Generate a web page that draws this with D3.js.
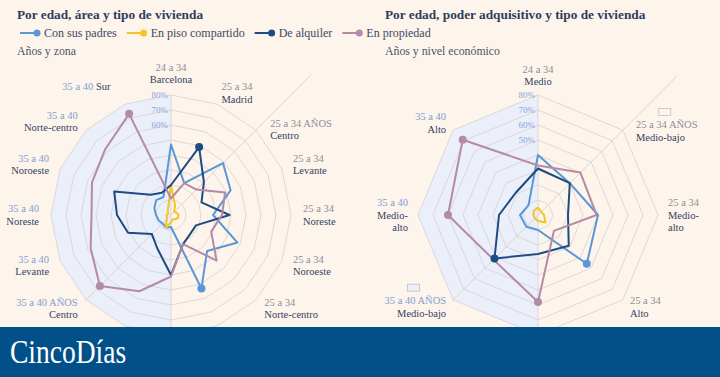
<!DOCTYPE html>
<html>
<head>
<meta charset="utf-8">
<script src="https://cdn.jsdelivr.net/npm/d3@7"></script>
<style>
  body { margin: 0; background: #fdf4ec; }
  svg { display: block; }
  text { font-family: "Liberation Serif", serif; }
</style>
</head>
<body>
<svg id="chart"></svg>
<script>
// series
const seriesNames = ['Con sus padres', 'En piso compartido', 'De alquiler', 'En propiedad'];
const seriesColors = ['#5a97d6', '#f6c32b', '#1e4b82', '#b58aa6'];

// left radar: age + area
const areaAges = ['24 a 34', '25 a 34', '25 a 34 AÑOS', '25 a 34', '25 a 34', '25 a 34', '25 a 34', '25 a 34',
                  '35 a 40', '35 a 40', '35 a 40 AÑOS', '35 a 40', '35 a 40', '35 a 40', '35 a 40', '35 a 40'];
const areaZones = ['Barcelona', 'Madrid', 'Centro', 'Levante', 'Noreste', 'Noroeste', 'Norte-centro', 'Sur',
                   'Barcelona', 'Madrid', 'Centro', 'Levante', 'Noreste', 'Noroeste', 'Norte-centro', 'Sur'];
const areaInline = [15];
const areaPadres    = [47, 23, 49, 43, 28, 48, 34, 53, 8, 9, 8, 9, 10, 12, 14, 13];
const areaPiso      = [20, 7, 3, 4, 5, 5, 4, 3, 5, 9, 4, 3, 3, 2, 3, 5];
const areaAlquiler  = [20, 49, 31, 22, 39, 18, 18, 21, 40, 24, 18, 31, 36, 41, 19, 16];
const areaPropiedad = [11, 23, 24, 39, 34, 29, 43, 21, 41, 55, 67, 58, 53, 57, 62, 73];
const areaDots = [[7], [], [1], [10, 15]];
const areaTicks = [60, 70, 80];

// right radar: age + income level
const incomeAges = ['24 a 34', '25 a 34 AÑOS', '25 a 34', '25 a 34', '35 a 40', '35 a 40 AÑOS', '35 a 40', '35 a 40'];
const incomeLevels = ['Medio', 'Medio-bajo', 'Medio-\nalto', 'Alto', 'Medio', 'Medio-bajo', 'Medio-\nalto', 'Alto'];
const incomePadres    = [40, 30, 40, 46, 10, 11, 12, 9];
const incomePiso      = [5, 3, 4, 7, 4, 3, 3, 4];
const incomeAlquiler  = [31, 30, 20, 29, 26, 41, 26, 21];
const incomePropiedad = [33, 40, 39, 15, 58, 42, 60, 71];
const incomeDots = [[3], [], [5], [4, 6, 7]];
const incomeTicks = [50, 60, 70, 80];

const rings = [10, 20, 30, 40, 50, 60, 70, 80];

const width = 720, height = 377, bannerTop = 327;
const svg = d3.select('#chart').attr('width', width).attr('height', height);

svg.append('rect').attr('width', width).attr('height', height).attr('fill', '#fdf4ec');

const r = d3.scaleLinear().domain([0, 80]).range([0, 120]);

function radar(cx, cy, opts) {
  const n = opts.ages.length;
  const step = 2 * Math.PI / n;
  const g = svg.append('g').attr('transform', `translate(${cx},${cy})`);
  const pt = (a, rad) => [rad * Math.sin(a), -rad * Math.cos(a)];

  // left half shaded (older group)
  const half = d3.range(n / 2, n + 1).map(i => ({ a: i * step, r: r(80) }));
  half.push({ a: 0, r: 0 });
  g.append('path')
    .attr('d', d3.lineRadial().angle(d => d.a).radius(d => d.r).curve(d3.curveLinearClosed)(half))
    .attr('fill', '#ebeffa');

  // rings
  g.selectAll('.ring').data(rings).enter().append('path')
    .attr('class', 'ring')
    .attr('d', v => d3.lineRadial().angle((d, i) => i * step).radius(r(v)).curve(d3.curveLinearClosed)(d3.range(n)))
    .attr('fill', 'none')
    .attr('stroke', '#d4d0d2')
    .attr('stroke-width', 0.8);

  // spokes
  g.append('line').attr('x1', 0).attr('y1', -r(80)).attr('x2', 0).attr('y2', r(80))
    .attr('stroke', '#d4d0d2').attr('stroke-width', 0.8);
  const e1 = pt(Math.PI / 4, opts.extend), e2 = pt(5 * Math.PI / 4, r(81));
  g.append('line').attr('x1', e2[0]).attr('y1', e2[1]).attr('x2', e1[0]).attr('y2', e1[1])
    .attr('stroke', '#d9d0ca').attr('stroke-width', 0.9);

  // series lines
  const line = d3.lineRadial().angle((d, i) => i * step).radius(d => r(d)).curve(d3.curveLinearClosed);
  opts.values.forEach((vals, s) => {
    g.append('path').attr('d', line(vals))
      .attr('fill', 'none').attr('stroke', seriesColors[s])
      .attr('stroke-width', 2).attr('stroke-linejoin', 'round');
  });
  opts.values.forEach((vals, s) => {
    opts.dots[s].forEach(i => {
      const p = pt(i * step, r(vals[i]));
      g.append('circle').attr('cx', p[0]).attr('cy', p[1]).attr('r', 4).attr('fill', seriesColors[s]);
    });
  });

  // tick labels
  g.selectAll('.tick').data(opts.ticks).enter().append('text')
    .attr('x', -3).attr('y', v => -r(v) + 3)
    .attr('text-anchor', 'end')
    .attr('font-size', 9)
    .attr('fill', '#86a4d8')
    .text(v => v + '%');

  // category labels (the ones that fall under the banner are cut off in the original)
  const lh = 12.5;
  opts.ages.forEach((age, i) => {
    const a = i * step;
    let [lx, ly] = pt(a, opts.labelR);
    if (cy + ly > bannerTop - 12) return;
    if (age.includes('AÑOS') && i < n / 2) { lx += 6; ly += 8; }
    const s = Math.sin(a), c = Math.cos(a);
    const anchor = s > 0.1 ? 'start' : s < -0.1 ? 'end' : 'middle';
    const ageColor = i < n / 2 ? '#8e8f98' : '#7f9fd2';
    const inline = opts.inline.includes(i);
    const lines = inline ? [[age, opts.names[i]]] : [[age], ...opts.names[i].split('\n').map(t => [null, t])];
    const k = inline ? 2 : lines.length;
    if (inline) lx -= 10;
    let y0;
    if (c > 0.95) y0 = ly - (k - 1) * lh;
    else if (c < -0.95) y0 = ly + 9;
    else y0 = ly - (k - 1) * lh / 2 + 3.5;
    const texts = lines.map((ln, j) => {
      const t = g.append('text').attr('x', lx).attr('y', y0 + j * lh)
        .attr('text-anchor', anchor).attr('font-size', 10.5);
      if (ln[0] !== null) t.append('tspan').attr('fill', ageColor).text(ln[0]);
      if (ln.length > 1) t.append('tspan').attr('fill', '#34425f').text((ln[0] !== null ? ' ' : '') + ln[1]);
      return t;
    });
    if (opts.keyBoxes && age.includes('AÑOS')) {
      const bb = texts[0].node().getBBox();
      g.append('rect')
        .attr('x', bb.x + bb.width / 2 - 8).attr('y', bb.y - 11)
        .attr('width', 12).attr('height', 7)
        .attr('fill', i < n / 2 ? '#fdf4ec' : '#ebeffa')
        .attr('stroke', '#b9b9c2').attr('stroke-width', 0.7);
    }
  });
}

radar(171, 215, {
  ages: areaAges, names: areaZones, inline: areaInline,
  values: [areaPadres, areaPiso, areaAlquiler, areaPropiedad],
  dots: areaDots, ticks: areaTicks, labelR: 132, extend: 198, keyBoxes: false
});

radar(538, 215, {
  ages: incomeAges, names: incomeLevels, inline: [],
  values: [incomePadres, incomePiso, incomeAlquiler, incomePropiedad],
  dots: incomeDots, ticks: incomeTicks, labelR: 130, extend: 196, keyBoxes: true
});

// titles
svg.append('text').attr('x', 17).attr('y', 19)
  .attr('font-size', 13.3).attr('font-weight', 'bold').attr('fill', '#2c3e5c')
  .text('Por edad, área y tipo de vivienda');
svg.append('text').attr('x', 385).attr('y', 19)
  .attr('font-size', 13.3).attr('font-weight', 'bold').attr('fill', '#2c3e5c')
  .text('Por edad, poder adquisitivo y tipo de vivienda');
svg.append('text').attr('x', 17).attr('y', 55)
  .attr('font-size', 11.8).attr('fill', '#4b556b').text('Años y zona');
svg.append('text').attr('x', 385).attr('y', 55)
  .attr('font-size', 11.8).attr('fill', '#4b556b').text('Años y nivel económico');

// legend
let lx = 20;
seriesNames.forEach((name, s) => {
  const item = svg.append('g').attr('transform', `translate(${lx},33)`);
  item.append('line').attr('x1', 0).attr('x2', 17).attr('stroke', seriesColors[s]).attr('stroke-width', 2);
  item.append('circle').attr('cx', 17).attr('r', 3.5).attr('fill', seriesColors[s]);
  const t = item.append('text').attr('x', 24).attr('y', 4)
    .attr('font-size', 12).attr('fill', '#3d4863').text(name);
  lx += 24 + t.node().getComputedTextLength() + 10;
});

// banner
svg.append('rect').attr('y', bannerTop).attr('width', width).attr('height', height - bannerTop).attr('fill', '#02508a');
svg.append('text').attr('transform', 'translate(10,363) scale(0.81,1)')
  .attr('font-size', 34).attr('fill', '#fff').text('CincoDías');
</script>
</body>
</html>
